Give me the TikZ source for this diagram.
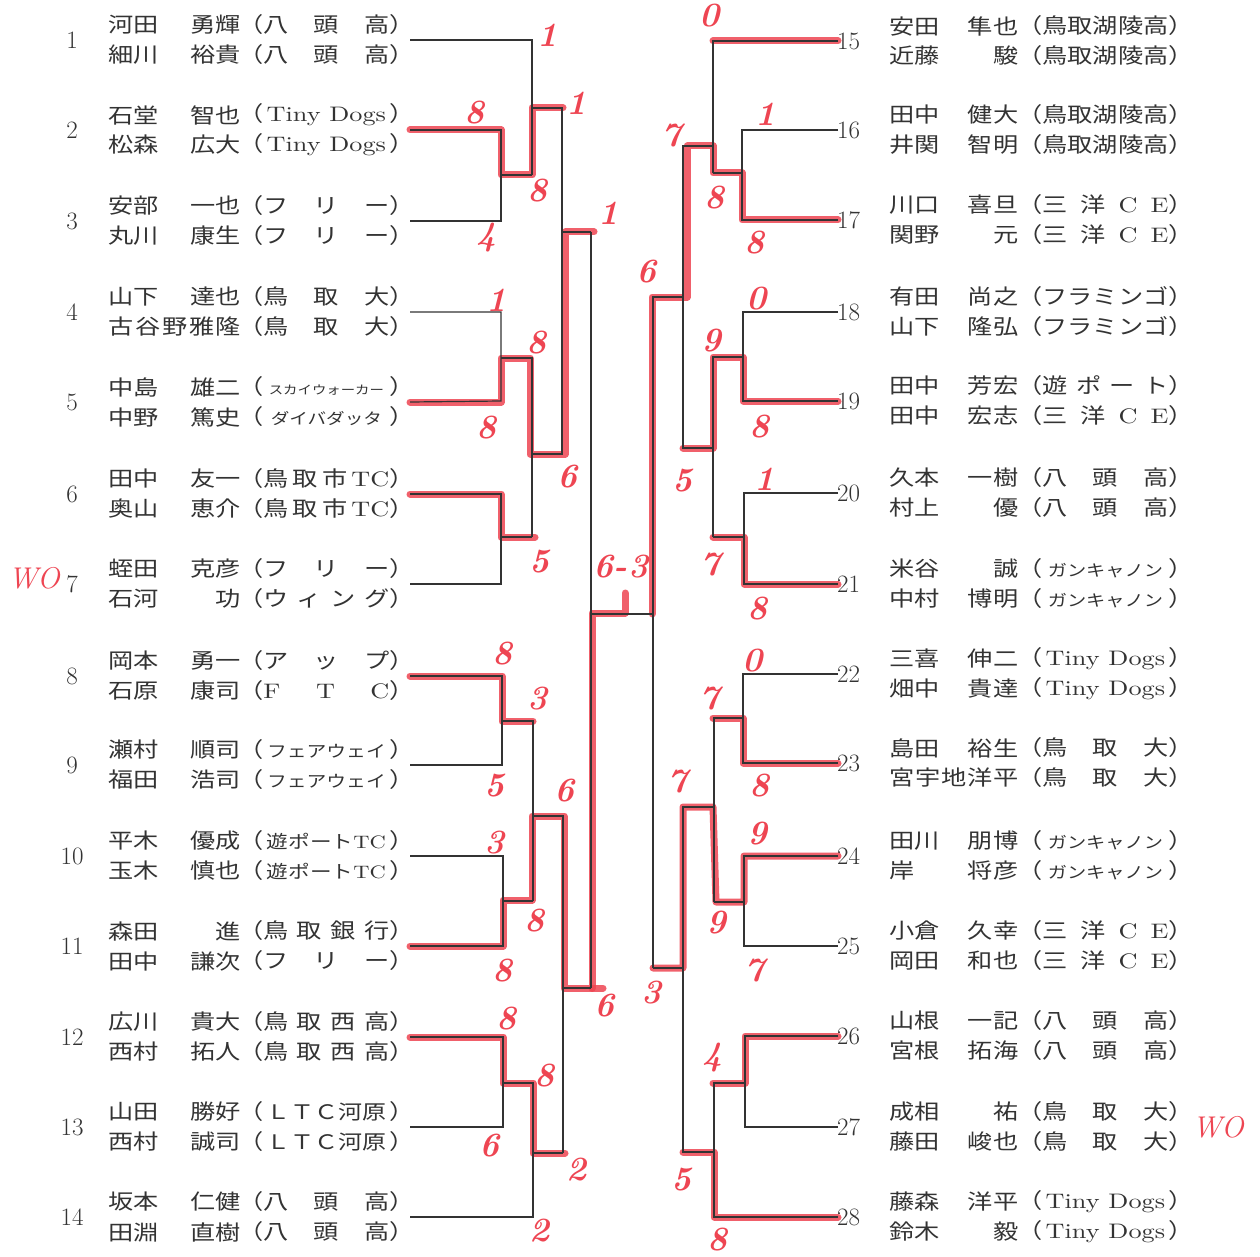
\documentclass[tikz,border=0pt]{standalone}
\usepackage{fontspec}
\usepackage{graphicx}
\newfontfamily\jp{Noto Sans CJK JP}[FakeStretch=1.2]
\newfontfamily\lat{lmroman10-regular}[Extension=.otf, FakeStretch=1.25]
\definecolor{ink}{HTML}{333333}
\definecolor{pen}{HTML}{EE4552}

% one pair of players: number, two rows of name and club, end of the draw line
\newcommand\nmL[2]{\makebox[133pt][s]{#1\hfill #2}}
\newcommand\nmR[2]{\makebox[129pt][s]{#1\hfill #2}}
\newcommand\team[1]{（\makebox[126pt][s]{#1}）}
\newcommand\pairL[8]{%
  \node[num] (n#1) at (72,#2) {#1};
  \node[who] (a#1) at (108,#2-15) {\nmL{#3}{#4}};
  \node[who] (ta#1) at (238,#2-15) {\team{#5}};
  \node[who] (b#1) at (108,#2+15) {\nmL{#6}{#7}};
  \node[who] (tb#1) at (238,#2+15) {\team{#8}};
  \coordinate (e#1) at (410,#2);}
\newcommand\pairR[8]{%
  \node[num, anchor=west] (n#1) at (837,#2) {#1};
  \node[who] (a#1) at (889,#2-15) {\nmR{#3}{#4}};
  \node[who] (ta#1) at (1017,#2-15) {\team{#5}};
  \node[who] (b#1) at (889,#2+15) {\nmR{#6}{#7}};
  \node[who] (tb#1) at (1017,#2+15) {\team{#8}};
  \coordinate (e#1) at (838,#2);}

\begin{document}
\begin{tikzpicture}[x=1pt, y=-1pt,
    every node/.style={inner sep=0pt},
    num/.style={font=\fontsize{25}{25}\selectfont, text=ink},
    who/.style={anchor=west, font=\jp\fontsize{21}{21}\selectfont, text=ink},
    bk/.style={ink, line width=1.2pt},
    mk/.style={pen, line width=7pt, line cap=round, line join=round, opacity=.85},
    sc/.style={text=pen, font=\fontsize{34}{34}\selectfont\bfseries\itshape},
    wo/.style={text=pen, font=\fontsize{30}{30}\selectfont\itshape},
]
\fill[white] (0,0) rectangle (1260,1257);
\useasboundingbox (0,0) rectangle (1260,1257);

% left half
\pairL{1}{40}{河田}{勇輝}{八\hfill 頭\hfill 高}{細川}{裕貴}{八\hfill 頭\hfill 高}
\pairL{2}{130}{石堂}{智也}{\hfill{\lat Tiny Dogs}\hfill}{松森}{広大}{\hfill{\lat Tiny Dogs}\hfill}
\pairL{3}{221}{安部}{一也}{フ\hfill リ\hfill ー}{丸川}{康生}{フ\hfill リ\hfill ー}
\pairL{4}{312}{山下}{達也}{鳥\hfill 取\hfill 大}{古\hfill 谷\hfill 野}{雅\hfill 隆}{鳥\hfill 取\hfill 大}
\pairL{5}{402}{中島}{雄二}{\hfill{\fontsize{12}{12}\selectfont スカイウォーカー}\hfill}{中野}{篤史}{\hfill{\fontsize{15.5}{15.5}\selectfont ダイバダッタ}\hfill}
\pairL{6}{494}{田中}{友一}{鳥\hfill 取\hfill 市\hfill{\lat TC}}{奥山}{恵介}{鳥\hfill 取\hfill 市\hfill{\lat TC}}
\pairL{7}{584}{蛭田}{克彦}{フ\hfill リ\hfill ー}{石河}{功}{ウ\hfill ィ\hfill ン\hfill グ}
\pairL{8}{676}{岡本}{勇一}{ア\hfill ッ\hfill プ}{石原}{康司}{{\lat F}\hfill{\lat T}\hfill{\lat C}}
\pairL{9}{765}{瀬村}{順司}{\hfill{\fontsize{16.5}{16.5}\selectfont フェアウェイ}\hfill}{福田}{浩司}{\hfill{\fontsize{16.5}{16.5}\selectfont フェアウェイ}\hfill}
\pairL{10}{856}{平木}{優成}{\hfill{\fontsize{18}{18}\selectfont 遊ポート\lat TC}\hfill}{玉木}{慎也}{\hfill{\fontsize{18}{18}\selectfont 遊ポート\lat TC}\hfill}
\pairL{11}{946}{森田}{進}{鳥\hfill 取\hfill 銀\hfill 行}{田中}{謙次}{フ\hfill リ\hfill ー}
\pairL{12}{1037}{広川}{貴大}{鳥\hfill 取\hfill 西\hfill 高}{西村}{拓人}{鳥\hfill 取\hfill 西\hfill 高}
\pairL{13}{1127}{山田}{勝好}{\hfill{\fontsize{20}{20}\selectfont ＬＴＣ河原}\hfill}{西村}{誠司}{\hfill{\fontsize{20}{20}\selectfont ＬＴＣ河原}\hfill}
\pairL{14}{1217}{坂本}{仁健}{八\hfill 頭\hfill 高}{田淵}{直樹}{八\hfill 頭\hfill 高}

% right half
\pairR{15}{41}{安田}{隼也}{\hfill 鳥取湖陵高\hfill}{近藤}{駿}{\hfill 鳥取湖陵高\hfill}
\pairR{16}{130}{田中}{健大}{\hfill 鳥取湖陵高\hfill}{井関}{智明}{\hfill 鳥取湖陵高\hfill}
\pairR{17}{220}{川口}{喜旦}{三\hfill 洋\hfill{\lat C}\hfill{\lat E}}{関野}{元}{三\hfill 洋\hfill{\lat C}\hfill{\lat E}}
\pairR{18}{312}{有田}{尚之}{フ\hfill ラ\hfill ミ\hfill ン\hfill ゴ}{山下}{隆弘}{フ\hfill ラ\hfill ミ\hfill ン\hfill ゴ}
\pairR{19}{401}{田中}{芳宏}{遊\hfill ポ\hfill ー\hfill ト}{田中}{宏志}{三\hfill 洋\hfill{\lat C}\hfill{\lat E}}
\pairR{20}{493}{久本}{一樹}{八\hfill 頭\hfill 高}{村上}{優}{八\hfill 頭\hfill 高}
\pairR{21}{584}{米谷}{誠}{\hfill{\fontsize{16}{16}\selectfont ガンキャノン}\hfill}{中村}{博明}{\hfill{\fontsize{16}{16}\selectfont ガンキャノン}\hfill}
\pairR{22}{674}{三喜}{伸二}{\hfill{\lat Tiny Dogs}\hfill}{畑中}{貴達}{\hfill{\lat Tiny Dogs}\hfill}
\pairR{23}{763}{島田}{裕生}{鳥\hfill 取\hfill 大}{宮\hfill 宇\hfill 地}{洋\hfill 平}{鳥\hfill 取\hfill 大}
\pairR{24}{856}{田川}{朋博}{\hfill{\fontsize{16}{16}\selectfont ガンキャノン}\hfill}{岸}{将彦}{\hfill{\fontsize{16}{16}\selectfont ガンキャノン}\hfill}
\pairR{25}{946}{小倉}{久幸}{三\hfill 洋\hfill{\lat C}\hfill{\lat E}}{岡田}{和也}{三\hfill 洋\hfill{\lat C}\hfill{\lat E}}
\pairR{26}{1036}{山根}{一記}{八\hfill 頭\hfill 高}{宮根}{拓海}{八\hfill 頭\hfill 高}
\pairR{27}{1127}{成相}{祐}{鳥\hfill 取\hfill 大}{藤田}{峻也}{鳥\hfill 取\hfill 大}
\pairR{28}{1217}{藤森}{洋平}{\hfill{\lat Tiny Dogs}\hfill}{鈴木}{毅}{\hfill{\lat Tiny Dogs}\hfill}

% marker over the winners
\draw[mk] (e2) -| (501,175) -| (532,108) -- (563,108);
\draw[mk] (e5) -| (501,358) -| (530,454) -| (565,232) -- (594,232);
\draw[mk] (e6) -| (501,537) -- (535,537);
\draw[mk] (e8) -| (502,721) -- (533,721);
\draw[mk] (e11) -| (503,900) -| (532,816) -| (564,988) -| (592,613) -| (625,593);
\draw[mk] (592,988) -- (603,988);
\draw[mk] (e12) -| (503,1083) -| (533,1153) -- (565,1153);
\draw[mk] (e15) -- (713,41);
\draw[mk] (e17) -| (742,173) -| (713,146) -| (687,297) -| (652,614);
\draw[mk] (e19) -| (743,357) -| (713,448) -- (683,448);
\draw[mk] (e21) -| (744,537) -- (713,537);
\draw[mk] (e23) -| (743,718) -- (713,718);
\draw[mk] (e24) -| (744,902) -- (716,902) -- (713,807) -| (683,968) -- (653,968);
\draw[mk] (e26) -| (745,1083) -- (713,1083);
\draw[mk] (e28) -| (714,1152) -- (683,1152);

% the draw, left
\draw[bk] (e1) -| (532,175);
\draw[bk] (e2) -| (501,221) -- (e3);
\draw[bk] (501,175) -- (532,175);
\draw[bk] (532,108) -| (562,454) -- (532,454);
\draw[bk] (562,232) -- (591,232);
\draw[bk] (e4) -| (501,401) -- (e5);
\draw[bk] (501,358) -| (532,537);
\draw[bk] (e6) -| (501,584) -- (e7);
\draw[bk] (501,537) -- (532,537);
\draw[bk] (591,232) -- (591,988);
\draw[bk] (591,614) -- (653,614);
\draw[bk] (e8) -| (502,765) -- (e9);
\draw[bk] (502,721) -| (533,901);
\draw[bk] (e10) -| (503,946) -- (e11);
\draw[bk] (503,901) -- (533,901);
\draw[bk] (533,816) -| (563,1153);
\draw[bk] (563,988) -- (591,988);
\draw[bk] (e12) -| (503,1127) -- (e13);
\draw[bk] (503,1083) -| (533,1217) -- (e14);
\draw[bk] (533,1153) -- (563,1153);

% the draw, right
\draw[bk] (e15) -| (713,173);
\draw[bk] (e16) -| (742,220) -- (e17);
\draw[bk] (742,173) -- (713,173);
\draw[bk] (713,146) -| (683,448) -- (713,448);
\draw[bk] (683,297) -- (653,297) -- (653,968);
\draw[bk] (e18) -| (743,401) -- (e19);
\draw[bk] (743,357) -| (713,537);
\draw[bk] (e20) -| (744,584) -- (e21);
\draw[bk] (744,537) -- (713,537);
\draw[bk] (e22) -| (743,763) -- (e23);
\draw[bk] (743,718) -| (714,902);
\draw[bk] (e24) -| (744,946) -- (e25);
\draw[bk] (744,902) -- (714,902);
\draw[bk] (714,807) -| (683,1152) -- (714,1152);
\draw[bk] (683,968) -- (653,968);
\draw[bk] (e26) -| (745,1127) -- (e27);
\draw[bk] (745,1083) -| (714,1217) -- (e28);

% scores written in by hand
\foreach \x/\y/\t [count=\i] in {548/35/1, 475/113/8, 538/191/8, 577/103/1, 487/238/4,
    609/213/1, 497/300/1, 537/343/8, 487/428/8, 568/477/6, 540/562/5, 503/654/8,
    538/699/3, 495/786/5, 565/791/6, 495/843/3, 535/921/8, 503/971/8, 605/1006/6,
    507/1019/8, 545/1076/8, 490/1146/6, 577/1170/2, 540/1231/2, 621/567/6-3}
  \node[sc] (p\i) at (\x,\y) {\t};
\foreach \x/\y/\t [count=\i] in {710/16/0, 766/114/1, 672/136/7, 715/198/8, 755/243/8,
    647/272/6, 757/299/0, 712/341/9, 760/427/8, 683/481/5, 765/479/1, 711/565/7,
    758/609/8, 753/661/0, 710/699/7, 678/782/7, 760/786/8, 758/834/9, 717/923/9,
    755/971/7, 652/993/3, 713/1058/4, 682/1180/5, 718/1240/8}
  \node[sc] (q\i) at (\x,\y) {\t};
\node[wo] (wo7) at (34,578) {WO};
\node[wo] (wo27) at (1218,1127) {WO};
\end{tikzpicture}
\end{document}
